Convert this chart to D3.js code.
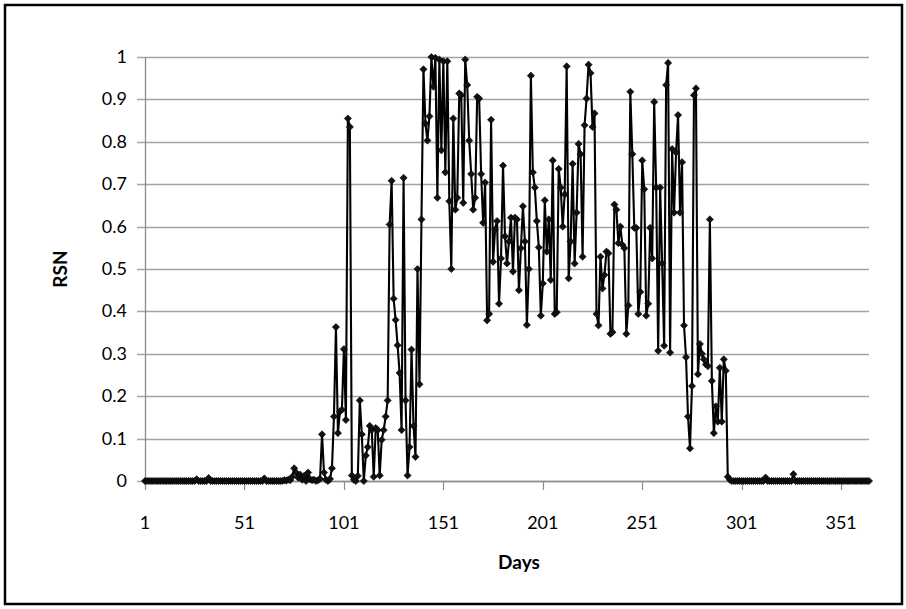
<!DOCTYPE html>
<html>
<head>
<meta charset="utf-8">
<script src="https://cdn.jsdelivr.net/npm/d3@7/dist/d3.min.js"></script>
<style>
  html, body { margin: 0; padding: 0; background: #fff; }
  svg { display: block; }
  text { font-family: Lato, "Open Sans", "Liberation Sans", sans-serif; fill: #000; }
</style>
</head>
<body>
<svg id="chart" width="906" height="609"></svg>
<script>
// ---- data ----
const xTicks = [1, 51, 101, 151, 201, 251, 301, 351];
const yTicks = [0, 0.1, 0.2, 0.3, 0.4, 0.5, 0.6, 0.7, 0.8, 0.9, 1];
const yTickLabels = ["0", "0.1", "0.2", "0.3", "0.4", "0.5", "0.6", "0.7", "0.8", "0.9", "1"];
const xTitle = "Days";
const yTitle = "RSN";
const rsn = [
  0,0,0,0,0,0,0,0,0,0,
  0,0,0,0,0,0,0,0,0,0,
  0,0,0,0,0,0,0.004,0,0,0,
  0,0,0.007,0,0,0,0,0,0,0,
  0,0,0,0,0,0,0,0,0,0,
  0,0,0,0,0,0,0,0,0,0,
  0.006,0,0,0,0,0,0,0,0,0,
  0.002,0.001,0.003,0.002,0.01,0.03,0.02,0.008,0.015,0.003,
  0.012,0,0.02,0.004,0.002,0.003,0,0.002,0.005,0.11,
  0.02,0.003,0,0.005,0.03,0.152,0.363,0.113,0.164,0.168,
  0.311,0.144,0.855,0.835,0.013,0.003,0,0.012,0.19,0.11,
  0,0.06,0.08,0.13,0.12,0.01,0.125,0.12,0.013,0.097,
  0.12,0.152,0.19,0.605,0.708,0.43,0.38,0.32,0.255,0.12,
  0.715,0.19,0.013,0.08,0.31,0.13,0.057,0.50,0.228,0.617,
  0.971,0.843,0.803,0.86,1.0,0.93,0.998,0.668,0.994,0.78,
  0.99,0.728,0.99,0.66,0.50,0.855,0.64,0.668,0.914,0.91,
  0.656,0.994,0.934,0.803,0.724,0.64,0.668,0.906,0.902,0.724,
  0.609,0.704,0.379,0.394,0.852,0.517,0.593,0.613,0.418,0.525,
  0.744,0.577,0.513,0.565,0.621,0.494,0.621,0.617,0.45,0.549,
  0.648,0.565,0.368,0.50,0.956,0.728,0.692,0.613,0.551,0.39,
  0.466,0.662,0.541,0.617,0.474,0.756,0.394,0.398,0.736,0.692,
  0.60,0.676,0.978,0.478,0.565,0.748,0.513,0.633,0.795,0.771,
  0.529,0.839,0.902,0.982,0.962,0.835,0.867,0.394,0.367,0.529,
  0.454,0.486,0.541,0.537,0.347,0.351,0.652,0.64,0.561,0.60,
  0.557,0.549,0.347,0.414,0.918,0.771,0.597,0.597,0.394,0.446,
  0.756,0.688,0.39,0.418,0.597,0.525,0.894,0.692,0.307,0.692,
  0.513,0.319,0.934,0.986,0.303,0.783,0.633,0.775,0.863,0.633,
  0.752,0.367,0.292,0.152,0.077,0.224,0.91,0.926,0.252,0.323,
  0.30,0.287,0.275,0.271,0.617,0.236,0.113,0.176,0.14,0.267,
  0.14,0.287,0.26,0.01,0.003,0,0,0,0,0,
  0,0,0,0,0,0,0,0,0,0,
  0,0,0.008,0,0,0,0,0,0,0,
  0,0,0,0,0,0,0.016,0,0,0,
  0,0,0,0,0,0,0,0,0,0,
  0,0,0,0,0,0,0,0,0,0,
  0,0,0,0,0,0,0,0,0,0,
  0,0,0,0,0
];
const days = rsn.map((v, i) => i + 1);

// ---- layout ----
const svg = d3.select("#chart");
const pLeft = 145, pRight = 869, pTop = 57, pBottom = 481;
const x = d3.scaleLinear().domain([1, 365]).range([pLeft, pRight]);
const y = d3.scaleLinear().domain([0, 1]).range([pBottom, pTop]);

// outer border
svg.append("rect")
  .attr("x", 5).attr("y", 5).attr("width", 897).attr("height", 599)
  .attr("fill", "#fff").attr("stroke", "#000").attr("stroke-width", 2.5);

// horizontal gridlines (with left tick extensions)
svg.append("g").selectAll("line").data(yTicks).join("line")
  .attr("x1", pLeft - 8).attr("x2", pRight)
  .attr("y1", d => Math.round(y(d)) + 0.5).attr("y2", d => Math.round(y(d)) + 0.5)
  .attr("stroke", "#a3a3a3").attr("stroke-width", 1.3);

// y axis line
svg.append("line")
  .attr("x1", pLeft + 0.5).attr("x2", pLeft + 0.5)
  .attr("y1", y(1)).attr("y2", y(0))
  .attr("stroke", "#8c8c8c").attr("stroke-width", 1.3);

// x axis line + ticks
svg.append("line")
  .attr("x1", pLeft).attr("x2", pRight)
  .attr("y1", Math.round(y(0)) + 0.5).attr("y2", Math.round(y(0)) + 0.5)
  .attr("stroke", "#8c8c8c").attr("stroke-width", 1.3);
svg.append("g").selectAll("line").data(xTicks).join("line")
  .attr("x1", d => Math.round(x(d)) + 0.5).attr("x2", d => Math.round(x(d)) + 0.5)
  .attr("y1", y(0)).attr("y2", y(0) + 9)
  .attr("stroke", "#8c8c8c").attr("stroke-width", 1.2);

// y tick labels
svg.append("g").selectAll("text").data(yTicks).join("text")
  .attr("x", 127).attr("y", d => y(d) + 6)
  .attr("text-anchor", "end").attr("font-size", 18)
  .text((d, i) => yTickLabels[i]);

// x tick labels
svg.append("g").selectAll("text").data(xTicks).join("text")
  .attr("x", d => x(d)).attr("y", 529)
  .attr("text-anchor", "middle").attr("font-size", 18)
  .text(d => d);

// axis titles
svg.append("text")
  .attr("x", 519).attr("y", 569)
  .attr("text-anchor", "middle").attr("font-size", 19).attr("font-weight", "bold")
  .text(xTitle);
svg.append("text")
  .attr("transform", `translate(67, ${(pTop + pBottom) / 2}) rotate(-90)`)
  .attr("text-anchor", "middle").attr("font-size", 19).attr("font-weight", "bold")
  .text(yTitle);

// series line
const line = d3.line().x((d, i) => x(days[i])).y(d => y(d));
svg.append("path")
  .datum(rsn)
  .attr("d", line)
  .attr("fill", "none").attr("stroke", "#000").attr("stroke-width", 2.1)
  .attr("stroke-linejoin", "round");

// diamond markers
const mr = 3.6;
svg.append("g").selectAll("path").data(rsn).join("path")
  .attr("d", (d, i) => {
    const cx = x(days[i]), cy = y(d);
    return `M${cx},${cy - mr}L${cx + mr},${cy}L${cx},${cy + mr}L${cx - mr},${cy}Z`;
  })
  .attr("fill", "#111").attr("stroke", "#000").attr("stroke-width", 0.6);
</script>
</body>
</html>
